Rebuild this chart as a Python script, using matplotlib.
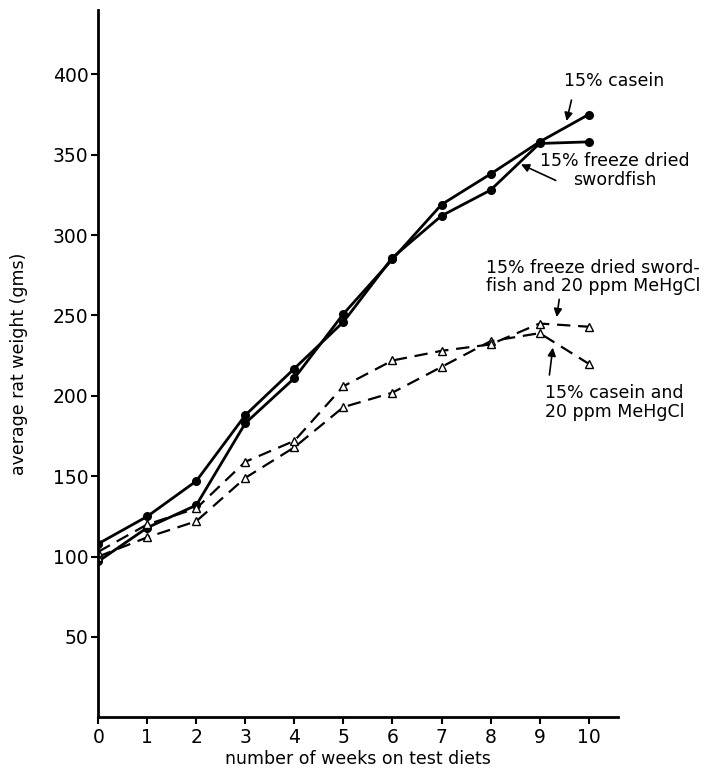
import matplotlib
matplotlib.use("Agg")
from matplotlib import pyplot as plt

weeks = [0, 1, 2, 3, 4, 5, 6, 7, 8, 9, 10]
casein = [97, 118, 132, 183, 211, 251, 285, 319, 338, 358, 375]
swordfish = [108, 125, 147, 188, 217, 246, 286, 312, 328, 357, 358]
casein_hg = [100, 112, 122, 149, 168, 193, 202, 218, 234, 239, 220]
swordfish_hg = [103, 120, 130, 159, 172, 206, 222, 228, 232, 245, 243]

yticks = [50, 100, 150, 200, 250, 300, 350, 400]

plt.rcParams['font.family'] = ['DejaVu Sans']

fig = plt.figure(figsize=(7.17, 7.73), dpi=100)
ax = fig.add_axes([0.137, 0.072, 0.725, 0.915])

solid = dict(color='black', lw=2.0, marker='o', ms=5.5)
dashed = dict(color='black', lw=1.6, ls=(0, (6, 3.5)), marker='^', ms=6,
              mfc='white', mec='black', mew=1.0)

ax.plot(weeks, casein, **solid)
ax.plot(weeks, swordfish, **solid)
ax.plot(weeks, casein_hg, **dashed)
ax.plot(weeks, swordfish_hg, **dashed)

ax.set_xlim(0, 10.6)
ax.set_ylim(0, 440)
ax.set_xticks(weeks)
ax.set_yticks(yticks)
ax.spines['top'].set_visible(False)
ax.spines['right'].set_visible(False)
ax.spines['left'].set_linewidth(2)
ax.spines['bottom'].set_linewidth(2)
ax.tick_params(direction='out', length=5, width=1.5, labelsize=13.5)
ax.tick_params(axis='x', pad=3)
ax.tick_params(axis='y', pad=2)

ax.set_xlabel('number of weeks on test diets', fontsize=12.5, labelpad=2)
ax.set_ylabel('average rat weight (gms)', fontsize=12.5, labelpad=18)

arr = dict(arrowstyle='-|>', color='black', lw=1.2, mutation_scale=12,
           shrinkA=0, shrinkB=0)

ax.annotate('', xy=(9.55, 371), xytext=(9.65, 384), arrowprops=arr)
ax.text(9.49, 396, '15% casein', fontsize=12.5, va='center', ha='left',
        clip_on=False)

ax.annotate('', xy=(8.62, 344), xytext=(9.33, 334), arrowprops=arr)
ax.text(10.54, 340, '15% freeze dried\nswordfish', fontsize=12.5,
        va='center', ha='center', linespacing=1.05, clip_on=False)

ax.annotate('', xy=(9.35, 249), xytext=(9.4, 260), arrowprops=arr)
ax.text(7.9, 274, '15% freeze dried sword-\nfish and 20 ppm MeHgCl',
        fontsize=12.5, va='center', ha='left', linespacing=1.05,
        clip_on=False)

ax.annotate('', xy=(9.27, 230), xytext=(9.2, 213), arrowprops=arr)
ax.text(10.53, 196, '15% casein and\n20 ppm MeHgCl', fontsize=12.5,
        va='center', ha='center', linespacing=1.05, clip_on=False)

fig.savefig('out.png', dpi=100)
